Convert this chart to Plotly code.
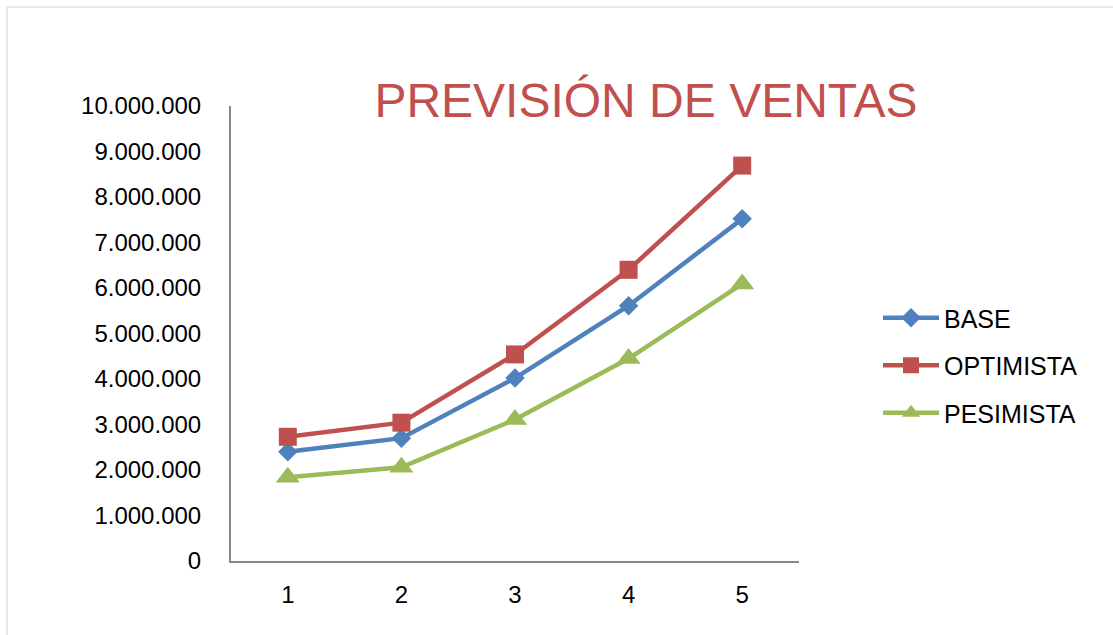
import plotly.graph_objects as go

# Sales forecast per period under three scenarios
periods = [1, 2, 3, 4, 5]
base = [2400000, 2700000, 4020000, 5610000, 7520000]
optimista = [2730000, 3040000, 4540000, 6400000, 8690000]
pesimista = [1840000, 2060000, 3110000, 4450000, 6090000]

series = [
    ("BASE", base, "#4F81BD", "diamond", 15),
    ("OPTIMISTA", optimista, "#C0504D", "square", 18),
    ("PESIMISTA", pesimista, "#9BBB59", "triangle-up", 21),
]

W, H = 1113, 635
ml, mr, mt, mb = 231, 314, 106, 74
pw, ph = W - ml - mr, H - mt - mb

fig = go.Figure()
for i, (name, vals, color, sym, size) in enumerate(series):
    fig.add_trace(go.Scatter(
        x=periods, y=vals, name=name, mode="lines+markers",
        legendgroup=f"g{i}",
        line=dict(color=color, width=4.5),
        marker=dict(symbol=sym, size=size, color=color, line=dict(width=0)),
    ))

# light frame around the chart area
fig.add_shape(
    type="rect", xref="paper", yref="paper", layer="below",
    x0=(7 - ml) / pw, x1=(W + 20 - ml) / pw,
    y0=-(mb + 20) / ph, y1=(H - mb - 7) / ph,
    line=dict(color="#F2DCDB", width=1.5), fillcolor="rgba(0,0,0,0)",
)

fig.update_layout(
    width=W, height=H,
    margin=dict(l=ml, r=mr, t=mt, b=mb),
    paper_bgcolor="white", plot_bgcolor="white",
    separators=",.",
    font=dict(family="Liberation Sans, Arial, sans-serif", color="black", size=24),
    title=dict(
        text="PREVISIÓN DE VENTAS",
        font=dict(family="Liberation Sans, Arial, sans-serif", size=48, color="#C0504D"),
        x=(646 - ml) / pw, xref="paper", xanchor="center",
        y=1 - 100 / H, yref="container", yanchor="middle",
    ),
    xaxis=dict(
        range=[0.5, 5.5], tickvals=periods, ticktext=[str(p) for p in periods],
        showgrid=False, zeroline=False, showline=True, linecolor="#888888", linewidth=2,
        ticks="", ticklabelstandoff=11, tickfont=dict(size=24),
    ),
    yaxis=dict(
        range=[0, 10000000], dtick=1000000, tickformat=",d",
        showgrid=False, zeroline=False, showline=True, linecolor="#888888", linewidth=2,
        ticks="", ticklabelstandoff=23, tickfont=dict(size=24),
    ),
    legend=dict(
        x=(878 - ml) / pw, xanchor="left", y=(H - mb - 295) / ph, yanchor="top",
        font=dict(size=25), itemwidth=56, tracegroupgap=12,
        bgcolor="rgba(0,0,0,0)",
    ),
    showlegend=True,
)

fig.write_html("out.html")
